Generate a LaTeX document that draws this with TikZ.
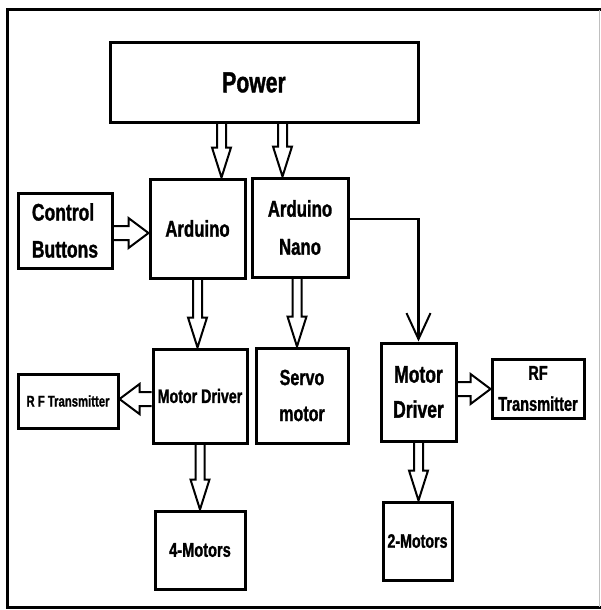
\documentclass[tikz,border=0pt]{standalone}
\usepackage{fontspec}
\newfontfamily\blockfont[FakeStretch=0.73, BoldFeatures={FakeBold=1.2}]{Liberation Sans}
\usetikzlibrary{calc,arrows.meta}
\tikzset{
  block/.style   = {shape=rectangle, draw, line width=3pt, align=center,
                    inner sep=0pt, font=\blockfont\bfseries},
  fatline/.style = {draw, line width=2pt, line join=miter},
  wire/.style    = {draw, line width=2.2pt,
                    -{Straight Barb[length=26pt, width=24pt, line width=2pt]}}
}
% hollow arrow: from, to, shaft half width, head half width, head length
\newcommand{\fatarrow}[5]{%
  \path (#1) coordinate (fa1);
  \path (#2) coordinate (fa2);
  \path ($(fa2)!#5pt!(fa1)$) coordinate (fa3);
  \draw[fatline] ($(fa1)!#3pt!90:(fa2)$) -- ($(fa3)!#3pt!-90:(fa1)$)
    -- ($(fa3)!#4pt!-90:(fa1)$) -- (fa2) -- ($(fa3)!#4pt!90:(fa1)$)
    -- ($(fa3)!#3pt!90:(fa1)$) -- ($(fa1)!#3pt!-90:(fa2)$);
}
\newcommand{\vfat}[2]{\fatarrow{#1}{#2}{4.5}{9.5}{30}}
\newcommand{\hfat}[2]{\fatarrow{#1}{#2}{7}{15}{20}}

\begin{document}
\begin{tikzpicture}[x=1pt, y=-1pt]
  \useasboundingbox (0,0) rectangle (601,610);
  % frame
  \draw[line width=3pt] (601,10) -- (7,10) -- (7,607) -- (601,607);
  \draw[gray!50, line width=1pt] (599,10) -- (599,607);

  \node [block, minimum width=308, minimum height=79,
         font=\blockfont\bfseries\fontsize{29}{34}\selectfont] (pw) at (264,82.5) {Power\hspace*{20pt}};
  \node [block, minimum width=94, minimum height=75, align=left,
         font=\blockfont\bfseries\fontsize{24}{37}\selectfont] (ctl) at (65,230.5) {Control\\Buttons};
  \node [block, minimum width=95, minimum height=99,
         font=\blockfont\bfseries\fontsize{23}{28}\selectfont] (ard) at (197.5,228.5) {Arduino};
  \node [block, minimum width=96, minimum height=99,
         font=\blockfont\bfseries\fontsize{23}{38}\selectfont] (nano) at (300,227.5) {Arduino\\Nano};
  \node [block, minimum width=94, minimum height=94,
         font=\blockfont\bfseries\fontsize{19.5}{24}\selectfont] (mdl) at (200,396) {Motor Driver};
  \node [block, minimum width=100, minimum height=54,
         font=\blockfont\bfseries\fontsize{15.5}{19}\selectfont] (rfl) at (68,401) {R F Transmitter};
  \node [block, minimum width=92, minimum height=95,
         font=\blockfont\bfseries\fontsize{22}{36}\selectfont] (servo) at (302,395.5) {Servo\\motor};
  \node [block, minimum width=75, minimum height=98,
         font=\blockfont\bfseries\fontsize{24}{35}\selectfont] (mdr) at (418.5,392) {Motor\\Driver};
  \node [block, minimum width=92, minimum height=59,
         font=\blockfont\bfseries\fontsize{20}{31}\selectfont] (rfr) at (538,388.5) {RF\\Transmitter};
  \node [block, minimum width=90, minimum height=78,
         font=\blockfont\bfseries\fontsize{20}{24}\selectfont] (m4) at (200,550) {4-Motors};
  \node [block, minimum width=69, minimum height=78,
         font=\blockfont\bfseries\fontsize{19.5}{24}\selectfont] (m2) at (417.5,541) {2-Motors};

  % power lines
  \vfat{[xshift=-42.5]pw.south}{fa1 |- ard.north}
  \vfat{[xshift=18.5]pw.south}{fa1 |- nano.north}
  \hfat{[yshift=-2.5]ctl.east}{fa1 -| ard.west}
  % left branch
  \vfat{ard.south}{fa1 |- mdl.north}
  \hfat{[yshift=-3]mdl.west}{fa1 -| rfl.east}
  \vfat{mdl.south}{fa1 |- m4.north}
  % nano branch
  \vfat{[xshift=-3]nano.south}{fa1 |- servo.north}
  \draw[wire] ([yshift=8.5]nano.east) -| (mdr.north);
  \hfat{[yshift=3]mdr.east}{fa1 -| rfr.west}
  \vfat{mdr.south}{fa1 |- m2.north}
\end{tikzpicture}
\end{document}
